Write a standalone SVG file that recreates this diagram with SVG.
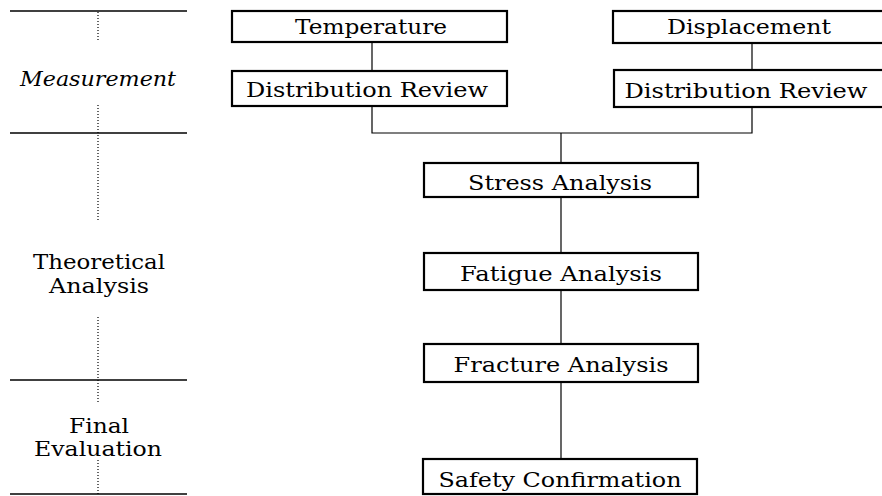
<svg xmlns="http://www.w3.org/2000/svg" width="882" height="496" viewBox="0 0 882 496">
<style>
.box{fill:#fff;stroke:#000;stroke-width:2.2}
.t{font-family:"DejaVu Serif","Liberation Serif",serif;font-size:20px;fill:#000;text-anchor:middle}
.lab{font-family:"DejaVu Serif","Liberation Serif",serif;font-size:20px;fill:#000;text-anchor:middle}
.conn{stroke:#000;stroke-width:1.2;fill:none}
.rule{stroke:#000;stroke-width:1.5}
.dot{stroke:#000;stroke-width:1.2;stroke-dasharray:1 2}
</style>
<rect width="882" height="496" fill="#fff"/>
<g id="phases">
<line class="rule" x1="10" y1="11" x2="187" y2="11"/>
<line class="rule" x1="10" y1="133" x2="187" y2="133"/>
<line class="rule" x1="10" y1="380" x2="187" y2="380"/>
<line class="rule" x1="10" y1="494" x2="187" y2="494"/>
<line class="dot" x1="98" y1="12" x2="98" y2="40"/>
<line class="dot" x1="98" y1="105" x2="98" y2="222"/>
<line class="dot" x1="98" y1="317" x2="98" y2="403"/>
<line class="dot" x1="98" y1="460" x2="98" y2="494"/>
<text class="lab" x="98" y="86" font-style="italic" textLength="156" lengthAdjust="spacingAndGlyphs">Measurement</text>
<text class="lab" x="99" y="269" textLength="132" lengthAdjust="spacingAndGlyphs">Theoretical</text>
<text class="lab" x="99" y="293" textLength="100" lengthAdjust="spacingAndGlyphs">Analysis</text>
<text class="lab" x="99" y="433" textLength="60" lengthAdjust="spacingAndGlyphs">Final</text>
<text class="lab" x="98" y="456" textLength="128" lengthAdjust="spacingAndGlyphs">Evaluation</text>
</g>
<g id="connectors">
<line class="conn" x1="372" y1="42" x2="372" y2="71"/>
<line class="conn" x1="752" y1="43" x2="752" y2="70"/>
<polyline class="conn" points="372,106 372,133 752,133 752,107"/>
<line class="conn" x1="561" y1="133" x2="561" y2="163"/>
<line class="conn" x1="561" y1="197" x2="561" y2="253"/>
<line class="conn" x1="561" y1="290" x2="561" y2="344"/>
<line class="conn" x1="561" y1="382" x2="561" y2="459"/>
</g>
<g id="temperature">
<rect class="box" x="232" y="11" width="275" height="31"/>
<text class="t" x="371" y="34" textLength="152" lengthAdjust="spacingAndGlyphs">Temperature</text>
</g>
<g id="dist-review-left">
<rect class="box" x="232" y="71" width="275" height="35"/>
<text class="t" x="367" y="97" textLength="242" lengthAdjust="spacingAndGlyphs">Distribution Review</text>
</g>
<g id="displacement">
<rect class="box" x="613" y="11" width="280" height="32"/>
<text class="t" x="749" y="34" textLength="164" lengthAdjust="spacingAndGlyphs">Displacement</text>
</g>
<g id="dist-review-right">
<rect class="box" x="614" y="70" width="280" height="37"/>
<text class="t" x="746" y="98" textLength="243" lengthAdjust="spacingAndGlyphs">Distribution Review</text>
</g>
<g id="stress">
<rect class="box" x="424" y="163" width="274" height="34"/>
<text class="t" x="560" y="190" textLength="184" lengthAdjust="spacingAndGlyphs">Stress Analysis</text>
</g>
<g id="fatigue">
<rect class="box" x="424" y="253" width="274" height="37"/>
<text class="t" x="561" y="281" textLength="202" lengthAdjust="spacingAndGlyphs">Fatigue Analysis</text>
</g>
<g id="fracture">
<rect class="box" x="424" y="344" width="274" height="38"/>
<text class="t" x="561" y="372" textLength="215" lengthAdjust="spacingAndGlyphs">Fracture Analysis</text>
</g>
<g id="safety">
<rect class="box" x="423" y="459" width="274" height="35"/>
<text class="t" x="560" y="487" textLength="243" lengthAdjust="spacingAndGlyphs">Safety Confirmation</text>
</g>
</svg>
